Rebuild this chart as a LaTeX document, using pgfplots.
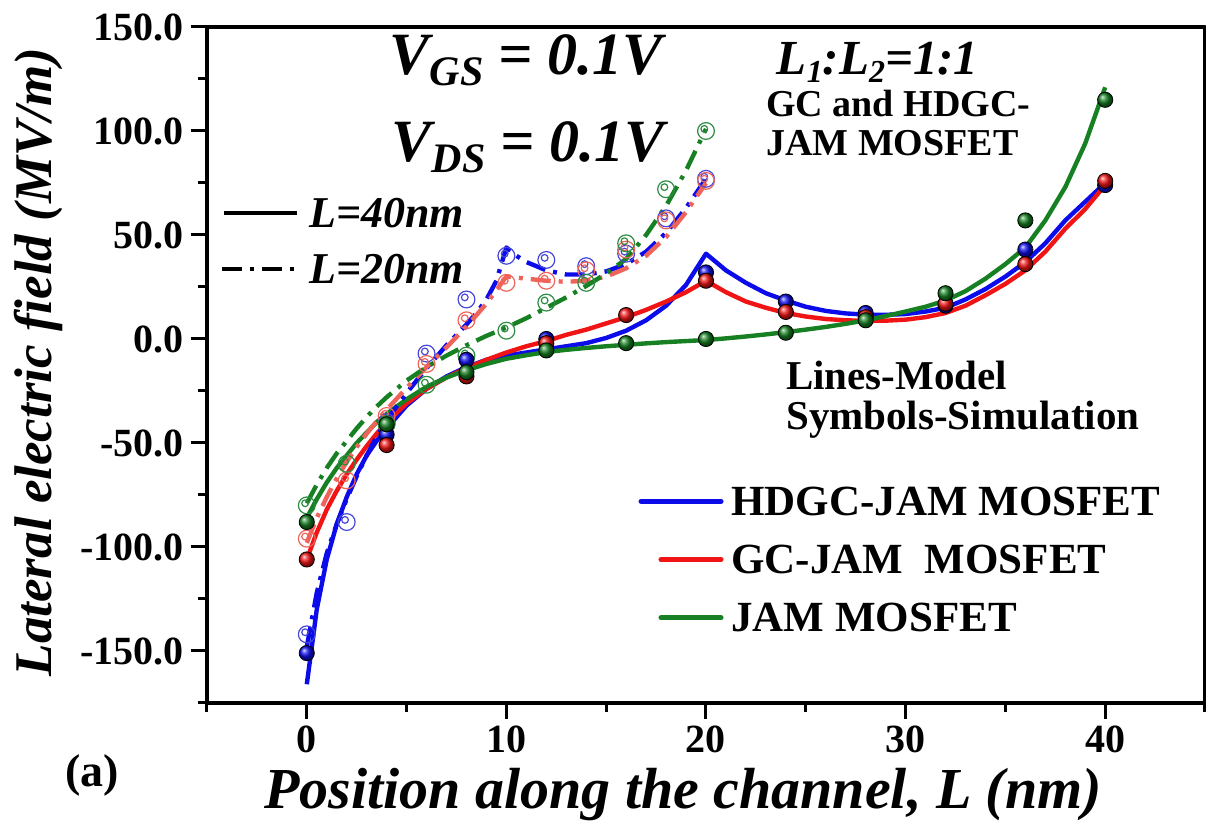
\documentclass[border=0pt]{standalone}
\usepackage{fontspec}
\setmainfont{Liberation Serif}
\usepackage{pgfplots}
\pgfplotsset{compat=1.18}
\usepackage{pgfplotstable}

\definecolor{cblue}{RGB}{12,12,235}
\definecolor{cred}{RGB}{240,20,20}
\definecolor{cgreen}{RGB}{22,128,34}
\definecolor{credlight}{RGB}{238,100,90}
\definecolor{cbluec}{RGB}{70,70,215}
\definecolor{cgreenc}{RGB}{45,140,65}

\tikzset{dashdot/.style={dash pattern=on 10pt off 4pt on 2pt off 4pt}}

% open simulation marker: circle with a small inner ring
\pgfdeclareplotmark{simo}{%
  \pgfpathcircle{\pgfpointorigin}{\pgfplotmarksize}\pgfusepathqstroke
  \pgfpathcircle{\pgfpoint{-0.2\pgfplotmarksize}{0.25\pgfplotmarksize}}{0.4\pgfplotmarksize}\pgfusepathqstroke}

% ---------- model, L = 40 nm ----------
\pgfplotstableread{
x y
0 -166
0.5 -130
1 -106
1.5 -89
2 -76
2.5 -65
3 -56
3.5 -49
4 -43
5 -32
6 -24
7 -18
8 -13.5
9 -10
10 -8
11 -6.5
12 -5
13 -3.5
14 -2
15 0.5
16 4
17 9
18 16
19 26
20 41
21 33
22 27
23 22
24 18.5
25 15.5
26 13.5
27 12.3
28 11.7
29 11.6
30 12
31 13.2
32 15
33 19
34 24
35 30
36 37
37 46
38 57
39 66
40 75
}\bfortyline
\pgfplotstableread{
x y
0 -106
0.5 -93
1 -82
1.5 -73
2 -65
2.5 -58
3 -51.5
3.5 -45.5
4 -40
5 -31
6 -24
7 -18.5
8 -14
9 -10
10 -6.5
11 -3.5
12 -1
13 2
14 4.5
15 7.5
16 10.5
17 14
18 18
19 22.5
20 28
21 22.5
22 18
23 15
24 12.5
25 10.8
26 9.6
27 9
28 8.7
29 8.8
30 9.3
31 10.5
32 12.5
33 16
34 21
35 26.5
36 33
37 42
38 53
39 62.5
40 74
}\rfortyline
\pgfplotstableread{
x y
0 -86
0.5 -77
1 -69
1.5 -62
2 -56
2.5 -50
3 -45
3.5 -40
4 -36
5 -29
6 -23
7 -18.5
8 -15
9 -12
10 -9.5
11 -7.8
12 -6.3
13 -5.2
14 -4.3
15 -3.5
16 -2.8
17 -2.1
18 -1.5
19 -1
20 -0.5
21 0.3
22 1.2
23 2.2
24 3.3
25 4.5
26 5.8
27 7.3
28 9
29 11
30 13.2
31 15.5
32 18.5
33 23
34 29
35 36
36 44
37 57
38 73
39 94
40 121
}\gfortyline

% ---------- model, L = 20 nm ----------
\pgfplotstableread{
x y
0 -148
0.5 -122
1 -103
1.5 -89
2 -77
2.5 -66
3 -56
3.5 -47
4 -39
5 -26
6 -14
7 -3
8 7
8.5 12.5
9 19
9.5 28
10 44
10.5 40
11 37
12 33
13 31
14 31
15 32.5
16 36
17 42
18 51
19 63
20 77
}\btwentyline
\pgfplotstableread{
x y
0 -98
0.5 -86
1 -76
1.5 -67
2 -59
2.5 -52
3 -45.5
3.5 -39.5
4 -34
5 -23.5
6 -13.5
7 -4
8 6
9 17
10 30
11 29
12 28
13 27.5
14 28
15 30
16 34
17 40
18 49
19 61
20 75
}\rtwentyline
\pgfplotstableread{
x y
0 -79
0.5 -70
1 -62
1.5 -55
2 -49
2.5 -43
3 -37.5
3.5 -32.5
4 -28
5 -20
6 -13.5
7 -8
8 -3
9 1.5
10 5.5
11 10
12 15
13 20
14 25.5
15 31.5
16 38.5
17 50
18 64
19 81
20 101
}\gtwentyline

% ---------- simulation, L = 40 nm ----------
\pgfplotstableread{
x y
0 -151
4 -46
8 -10
12 0
20 32
24 18
28 12.5
32 16
36 43
40 74
}\bfortysim
\pgfplotstableread{
x y
0 -106
4 -51
8 -18
12 -2
16 11.5
20 28
24 13
28 10.5
32 17
36 36
40 76
}\rfortysim
\pgfplotstableread{
x y
0 -88
4 -41
8 -16
12 -5.5
16 -2
20 0
24 3
28 9
32 22
36 57
40 115
}\gfortysim

% ---------- simulation, L = 20 nm ----------
\pgfplotstableread{
x y
0 -142
2 -88
4 -40
6 -7
8 19
10 40
12 38
14 35
16 41
18 58
20 77
}\btwentysim
\pgfplotstableread{
x y
0 -96
2 -68
4 -37
6 -12
8 9
10 27
12 28
14 33
16 43
18 57
20 76
}\rtwentysim
\pgfplotstableread{
x y
0 -80
2 -60
4 -41
6 -22
8 -8
10 4
12 17.5
14 27
16 46
18 72
20 100
}\gtwentysim

\begin{document}
\begin{tikzpicture}
\path[use as bounding box] (0,0) rectangle (603pt,417pt);
\begin{axis}[
  at={(103.5pt,65.5pt)}, anchor=south west,
  scale only axis, width=499pt, height=338pt,
  xmin=-5, xmax=45, ymin=-175, ymax=150,
  axis line style={line width=1.6pt},
  xtick={0,10,20,30,40}, xticklabels={0,10,20,30,40},
  minor xtick={-5,5,15,25,35,45},
  ytick={-150,-100,-50,0,50,100,150},
  yticklabels={-150.0,-100.0,-50.0,0.0,50.0,100.0,150.0},
  minor ytick={-175,-125,-75,-25,25,75,125},
  tick align=outside, tick pos=left,
  major tick length=8pt, minor tick length=4.5pt,
  tick style={line width=1.5pt, black},
  tick label style={font=\bfseries\fontsize{20}{20}\selectfont},
  line join=round,
]
% model curves
\addplot[cblue, line width=2.2pt, no marks] table {\bfortyline};
\addplot[cred, line width=2.2pt, no marks] table {\rfortyline};
\addplot[cgreen, line width=2.2pt, no marks] table {\gfortyline};
\addplot[cblue, line width=2.2pt, dashdot, no marks] table {\btwentyline};
\addplot[credlight, line width=2.2pt, dashdot, no marks] table {\rtwentyline};
\addplot[cgreen, line width=2.2pt, dashdot, no marks] table {\gtwentyline};
% simulation, L = 20 nm
\addplot[only marks, mark=simo, mark size=4.2pt, cbluec, mark options={line width=0.6pt, solid}] table {\btwentysim};
\addplot[only marks, mark=simo, mark size=4.2pt, credlight, mark options={line width=0.6pt, solid}] table {\rtwentysim};
\addplot[only marks, mark=simo, mark size=4.2pt, cgreenc, mark options={line width=0.6pt, solid}] table {\gtwentysim};
% simulation, L = 40 nm
\addplot[only marks, mark=ball, mark size=3.8pt, mark options={ball color=cblue}] table {\bfortysim};
\addplot[only marks, mark=ball, mark size=3.8pt, mark options={ball color=cred}] table {\rfortysim};
\addplot[only marks, mark=ball, mark size=3.8pt, mark options={ball color=cgreen}] table {\gfortysim};

% bias conditions
\node[font=\bfseries\itshape\fontsize{30}{30}\selectfont] at (axis cs:11,134)
  {V\raisebox{-0.4ex}{\fontsize{21}{21}\selectfont GS} = 0.1V};
\node[font=\bfseries\itshape\fontsize{30}{30}\selectfont] at (axis cs:11.1,92)
  {V\raisebox{-0.4ex}{\fontsize{21}{21}\selectfont DS} = 0.1V};
\node[font=\bfseries\itshape\fontsize{24.5}{24.5}\selectfont] at (axis cs:28.6,133)
  {L\raisebox{-0.35ex}{\fontsize{16}{16}\selectfont 1}:L\raisebox{-0.35ex}{\fontsize{16}{16}\selectfont 2}=1:1};
\node[anchor=west, align=left, font=\bfseries\fontsize{19}{19.5}\selectfont, inner sep=0pt]
  at (axis cs:23,104) {GC and HDGC-\\JAM MOSFET};
\node[anchor=west, align=left, font=\bfseries\fontsize{20.5}{20}\selectfont, inner sep=0pt]
  at (axis cs:24,-29) {Lines-Model\\Symbols-Simulation};

% line-style key
\draw[black, line width=2pt] (axis cs:-4.15,60.4) -- (axis cs:-0.5,60.4);
\node[anchor=west, inner sep=0pt, font=\bfseries\itshape\fontsize{22}{22}\selectfont] at (axis cs:0.1,60.4) {L=40nm};
\draw[black, line width=2pt, dashdot] (axis cs:-4.25,33.8) -- (axis cs:-0.5,33.8);
\node[anchor=west, inner sep=0pt, font=\bfseries\itshape\fontsize{22}{22}\selectfont] at (axis cs:0.1,33.8) {L=20nm};

% device key
\draw[cblue, line width=2.6pt, line cap=round] (axis cs:16.75,-78) -- (axis cs:20.75,-78);
\draw[cred, line width=2.6pt, line cap=round] (axis cs:17.75,-106) -- (axis cs:20.75,-106);
\draw[cgreen, line width=2.6pt, line cap=round] (axis cs:17.75,-134) -- (axis cs:20.75,-134);
\node[anchor=west, inner sep=0pt, font=\bfseries\fontsize{21.5}{21.5}\selectfont] at (axis cs:21.25,-78) {HDGC-JAM MOSFET};
\node[anchor=west, inner sep=0pt, font=\bfseries\fontsize{21.5}{21.5}\selectfont] at (axis cs:21.25,-106) {GC-JAM\ \ MOSFET};
\node[anchor=west, inner sep=0pt, font=\bfseries\fontsize{21.5}{21.5}\selectfont] at (axis cs:21.25,-134) {JAM MOSFET};
\end{axis}

% axis titles and panel tag
\node[rotate=90, font=\bfseries\itshape\fontsize{26.5}{26.5}\selectfont] at (19pt,236pt) {Lateral electric field (MV/m)};
\node[font=\bfseries\itshape\fontsize{29}{29}\selectfont] at (341.5pt,19.5pt) {Position along the channel, L (nm)};
\node[font=\bfseries\fontsize{23}{23}\selectfont] at (46pt,29.5pt) {(a)};
\end{tikzpicture}
\end{document}
